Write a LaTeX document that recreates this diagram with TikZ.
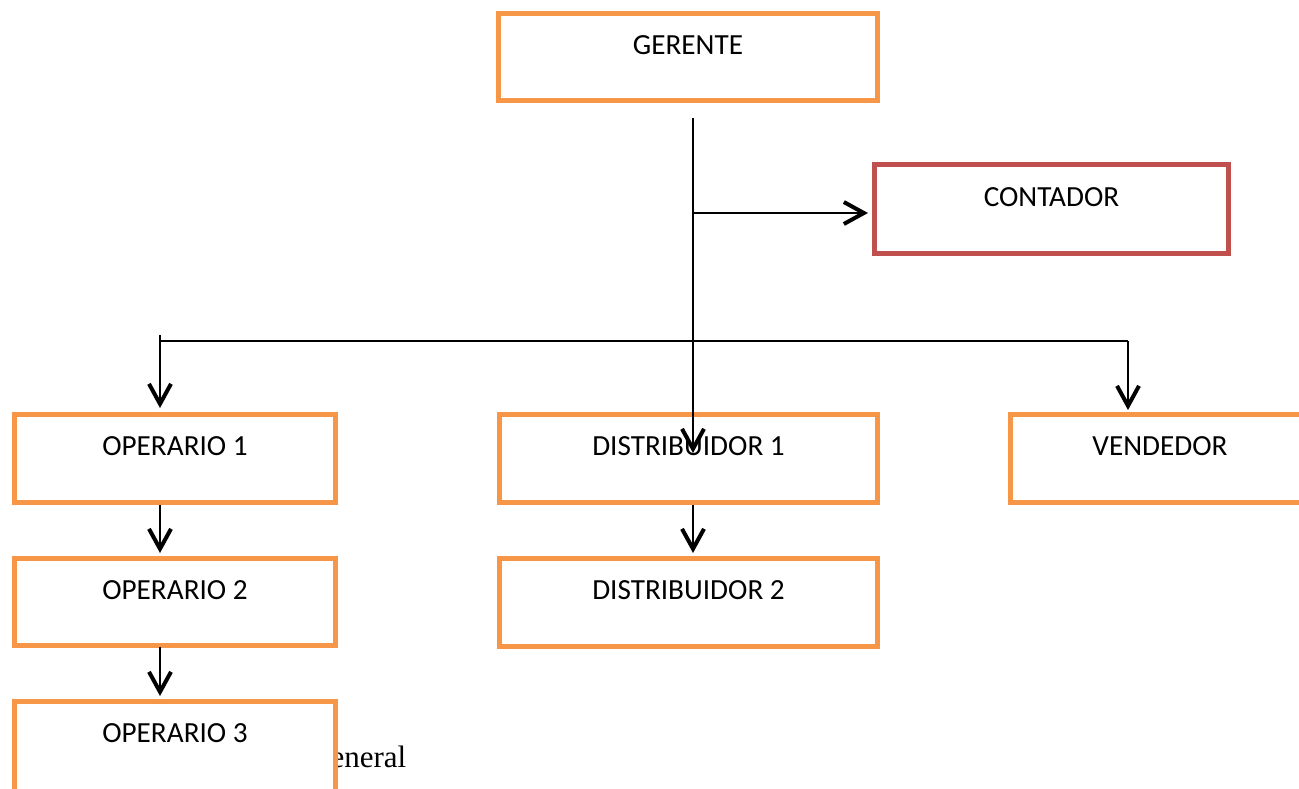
\documentclass[tikz,border=0pt]{standalone}
\usepackage{fontspec}
\setmainfont{Carlito}
\newfontfamily\pieserif{Liberation Serif}
\usetikzlibrary{arrows.meta}
\definecolor{naranja}{HTML}{F79646}
\definecolor{rojo}{HTML}{C0504D}

\begin{document}
\begin{tikzpicture}[x=1pt, y=-1pt, line width=1.5pt, line join=miter,
  caja/.style={draw=naranja, line width=5pt, fill=white, inner sep=0pt,
    font=\fontsize{29.2}{35}\selectfont, text height=21pt, text depth=27pt},
  flecha/.style={-{Straight Barb[length=20pt,width=22pt,line width=4pt]}}]

  %% ════ texto al fondo (queda tapado por la caja) ════
  \node[anchor=base east, inner sep=0pt, font=\pieserif\fontsize{31}{36}\selectfont] (pie) at (407,767) {eneral};

  %% ════ cajas ════
  \node[caja, minimum width=379pt, minimum height=87pt] (gerente) at (688,57) {GERENTE};
  \node[caja, draw=rojo, minimum width=354pt, minimum height=89pt] (contador) at (1051.5,209) {CONTADOR};
  \node[caja, minimum width=321pt, minimum height=88pt] (op1) at (175,458.5) {OPERARIO 1};
  \node[caja, minimum width=378pt, minimum height=88pt] (dist1) at (688.5,458.5) {DISTRIBUIDOR 1};
  \node[caja, minimum width=300pt, minimum height=88pt] (vend) at (1160,458.5) {VENDEDOR};
  \node[caja, minimum width=321pt, minimum height=87pt] (op2) at (175,602) {OPERARIO 2};
  \node[caja, minimum width=378pt, minimum height=88pt] (dist2) at (688.5,602.5) {DISTRIBUIDOR 2};
  \node[caja, minimum width=321pt, minimum height=96pt, text depth=35pt] (op3) at (175,749.5) {OPERARIO 3};

  %% ════ conectores ════
  \coordinate (tronco) at (693,118);
  \coordinate (rama) at (693,213);
  \coordinate (izq) at (160,335);
  \coordinate (barra) at (160,341);
  \coordinate (der) at (1128,341);

  \draw[flecha] (tronco) -- ([yshift=5.5pt]tronco |- dist1.center);
  \draw[flecha] (rama) -- ([xshift=-4pt]contador.west |- rama);
  \draw (barra) -- (der);
  \draw[flecha] (izq) -- ([yshift=4pt]izq |- op1.north);
  \draw[flecha] (der) -- ([yshift=2pt]der |- vend.north);
  \draw[flecha] ([yshift=0.5pt]izq |- op1.south) -- ([yshift=3pt]izq |- op2.north);
  \draw[flecha] ([yshift=1.5pt]izq |- op2.south) -- ([yshift=3pt]izq |- op3.north);
  \draw[flecha] ([yshift=0.5pt]tronco |- dist1.south) -- ([yshift=3pt]tronco |- dist2.north);

  % lienzo fijo al tamaño de la referencia
  \pgfresetboundingbox
  \path[use as bounding box] (0,0) rectangle (1299,788);
\end{tikzpicture}
\end{document}
